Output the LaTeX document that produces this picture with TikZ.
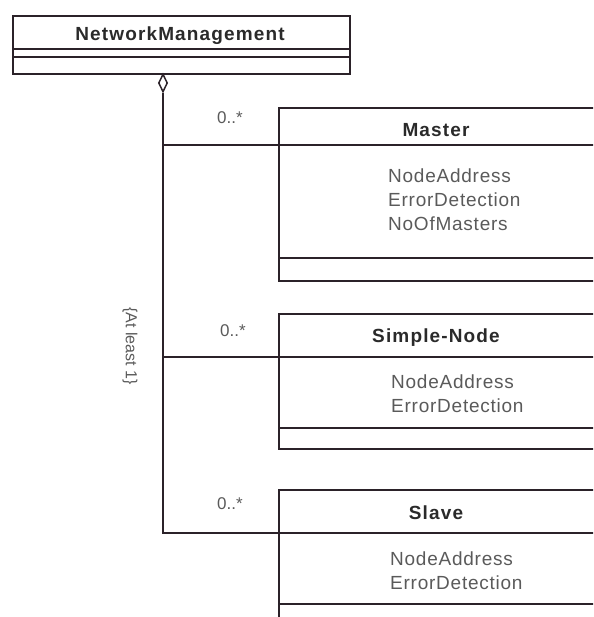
\documentclass[tikz,border=0pt]{standalone}
\usepackage{fontspec}
\setmainfont{Liberation Sans}
\usetikzlibrary{shapes.geometric}
\definecolor{linec}{HTML}{2B2229}
\definecolor{titlec}{HTML}{2A2A2A}
\definecolor{attrc}{HTML}{5A5A5A}
\newfontfamily\titlefont[LetterSpace=6]{Liberation Sans}
\newfontfamily\attrfont[LetterSpace=4]{Liberation Sans}
\tikzset{
  ln/.style={draw=linec, line width=1.9pt},
  clsbox/.style={ln, rectangle, inner sep=0pt, anchor=north west},
  clstitle/.style={anchor=base, inner sep=0pt, text=titlec, font=\titlefont\fontsize{19}{23}\selectfont\bfseries},
  attrs/.style={anchor=base west, inner sep=0pt, text=attrc, align=left, font=\attrfont\fontsize{19}{24}\selectfont},
  mult/.style={anchor=base west, inner sep=0pt, text=attrc, font=\fontsize{17}{20}\selectfont},
  aggr/.style={ln, line width=1.5pt, fill=white, diamond, inner sep=0pt, minimum width=9pt, minimum height=18pt},
}
\begin{document}
\begin{tikzpicture}[x=1pt,y=-1pt]
\useasboundingbox (0,0) rectangle (593,617);
\clip (0,0) rectangle (593,617);
% NetworkManagement
\node[clsbox, minimum width=337pt, minimum height=58pt] (nm) at (12,15) {};
\draw[ln] (12,49) -- (349,49);
\draw[ln] (12,57) -- (349,57);
\node[clstitle] (nmt) at (180,41) {NetworkManagement};
% Master
\node[clsbox, minimum width=342pt, minimum height=173pt] (master) at (278,107) {};
\coordinate (masterH) at (278,145);
\draw[ln] (masterH) -- (620,145);
\draw[ln] (278,258) -- (620,258);
\node[clstitle] (mastert) at (436,137) {Master};
\node[attrs] (mastera) at (388,231) {NodeAddress\\ErrorDetection\\NoOfMasters};
% Simple-Node
\node[clsbox, minimum width=342pt, minimum height=135pt] (simple) at (278,313) {};
\coordinate (simpleH) at (278,357);
\draw[ln] (simpleH) -- (620,357);
\draw[ln] (278,428) -- (620,428);
\node[clstitle] (simplet) at (436,342) {Simple-Node};
\node[attrs] (simplea) at (391,412) {NodeAddress\\ErrorDetection};
% Slave
\node[clsbox, minimum width=342pt, minimum height=151pt] (slave) at (278,489) {};
\coordinate (slaveH) at (278,533);
\draw[ln] (slaveH) -- (620,533);
\draw[ln] (278,604) -- (620,604);
\node[clstitle] (slavet) at (436,519) {Slave};
\node[attrs] (slavea) at (390,589) {NodeAddress\\ErrorDetection};
% aggregation
\node[aggr] (agg) at (163,83) {};
\draw[ln] (agg.south) -- (agg.south |- slaveH) -- (slaveH);
\draw[ln] (agg.south |- masterH) -- (masterH);
\draw[ln] (agg.south |- simpleH) -- (simpleH);
% multiplicities
\node[mult] (m1) at (217,124) {0..*};
\node[mult] (m2) at (220,336) {0..*};
\node[mult] (m3) at (217,509) {0..*};
\node[anchor=center, inner sep=0pt, text=attrc, rotate=-90, font=\fontsize{16}{19}\selectfont] (cons) at (130,346) {\{At least 1\}};
\end{tikzpicture}
\end{document}
